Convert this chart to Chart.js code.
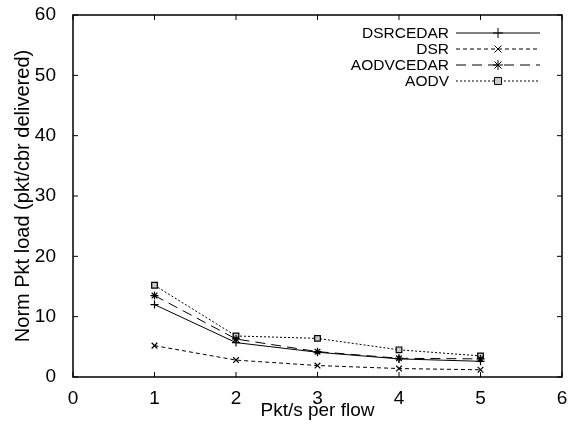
<!DOCTYPE html>
<html>
<head>
<meta charset="utf-8">
<script src="https://cdn.jsdelivr.net/npm/chart.js@4.4.1/dist/chart.umd.min.js"></script>
<style>
  html, body { margin: 0; padding: 0; background: #fff; }
  #wrap { width: 578px; height: 426px; }
</style>
</head>
<body>
<div id="wrap"><canvas id="myChart"></canvas></div>
<script>
// values
var rates = [1, 2, 3, 4, 5];
var dsrCedar = [12.0, 5.7, 4.1, 3.0, 2.6];
var dsr = [5.2, 2.8, 1.9, 1.4, 1.2];
var aodvCedar = [13.5, 6.3, 4.2, 3.1, 3.0];
var aodv = [15.2, 6.8, 6.4, 4.5, 3.5];
var xTicks = [0, 1, 2, 3, 4, 5, 6];
var yTicks = [0, 10, 20, 30, 40, 50, 60];

function pts(ys) {
  return rates.map(function (x, i) { return { x: x, y: ys[i] }; });
}

var FONT = 'Liberation Sans, Arial, sans-serif';

// gnuplot style frame: box + inward ticks on all four sides
var framePlugin = {
  id: 'frame',
  afterDatasetsDraw: function (chart) {
    var c = chart.ctx, a = chart.chartArea;
    var xs = chart.scales.x, ys = chart.scales.y;
    c.save();
    c.strokeStyle = '#000';
    c.lineWidth = 1.5;
    c.strokeRect(a.left, a.top, a.right - a.left, a.bottom - a.top);
    c.lineWidth = 1;
    c.beginPath();
    xTicks.forEach(function (v) {
      var px = xs.getPixelForValue(v);
      c.moveTo(px, a.bottom); c.lineTo(px, a.bottom - 5);
      c.moveTo(px, a.top); c.lineTo(px, a.top + 5);
    });
    yTicks.forEach(function (v) {
      var py = ys.getPixelForValue(v);
      c.moveTo(a.left, py); c.lineTo(a.left + 5, py);
      c.moveTo(a.right, py); c.lineTo(a.right - 5, py);
    });
    c.stroke();
    c.restore();
  }
};

// legend inside the plot, top right, text then line sample
var keyPlugin = {
  id: 'key',
  afterDraw: function (chart) {
    var c = chart.ctx;
    c.save();
    c.font = '15.5px ' + FONT;
    c.textAlign = 'right';
    c.textBaseline = 'middle';
    chart.data.datasets.forEach(function (ds, i) {
      var y = 33 + i * 16;
      c.fillStyle = '#000';
      c.fillText(ds.label, 449, y + 1);
      c.strokeStyle = ds.borderColor;
      c.lineWidth = 1;
      c.setLineDash(ds.borderDash || []);
      c.beginPath();
      c.moveTo(456, y); c.lineTo(540, y);
      c.stroke();
      c.setLineDash([]);
      c.fillStyle = ds.pointBackgroundColor;
      Chart.helpers.drawPoint(c, {
        pointStyle: ds.pointStyle, radius: 5, rotation: 0, borderWidth: 1.5
      }, 498, y);
    });
    c.restore();
  }
};

new Chart(document.getElementById('myChart'), {
  type: 'scatter',
  data: {
    datasets: [{
      label: 'DSRCEDAR',
      data: pts(dsrCedar),
      borderColor: '#000',
      pointStyle: 'cross',
      pointBackgroundColor: '#000'
    }, {
      label: 'DSR',
      data: pts(dsr),
      borderColor: '#000',
      borderDash: [4, 3],
      pointStyle: 'crossRot',
      pointBackgroundColor: '#000'
    }, {
      label: 'AODVCEDAR',
      data: pts(aodvCedar),
      borderColor: '#000',
      borderDash: [10, 6],
      pointStyle: 'star',
      pointBackgroundColor: '#000'
    }, {
      label: 'AODV',
      data: pts(aodv),
      borderColor: '#000',
      borderDash: [2, 2],
      pointStyle: 'rect',
      pointBackgroundColor: '#ccc'
    }].map(function (d) {
      d.showLine = true;
      d.borderWidth = 1;
      d.pointRadius = 4;
      d.pointBorderWidth = 1.2;
      d.pointBorderColor = '#000';
      return d;
    })
  },
  options: {
    responsive: true,
    maintainAspectRatio: false,
    animation: false,
    layout: { padding: { top: 15, right: 16, left: 0, bottom: 0 } },
    plugins: { legend: { display: false }, tooltip: { enabled: false } },
    scales: {
      x: {
        type: 'linear', min: 0, max: 6,
        afterBuildTicks: function (s) { s.ticks = xTicks.map(function (v) { return { value: v }; }); },
        afterFit: function (s) { s.height = 49; },
        grid: { display: false },
        border: { display: false },
        ticks: { color: '#000', font: { family: FONT, size: 19 }, padding: 2, maxRotation: 0 },
        title: { display: true, text: 'Pkt/s per flow', color: '#000', font: { family: FONT, size: 19 }, padding: { top: 0, bottom: 4 } }
      },
      y: {
        type: 'linear', min: 0, max: 60,
        afterBuildTicks: function (s) { s.ticks = yTicks.map(function (v) { return { value: v }; }); },
        afterFit: function (s) { s.width = 73; s.paddingTop = 0; s.paddingBottom = 0; },
        grid: { display: false },
        border: { display: false },
        ticks: { color: '#000', font: { family: FONT, size: 19 }, padding: 9 },
        title: { display: true, text: 'Norm Pkt load (pkt/cbr delivered)', color: '#000', font: { family: FONT, size: 20 }, padding: { top: 11, bottom: 0 } }
      }
    }
  },
  plugins: [framePlugin, keyPlugin]
});
</script>
</body>
</html>
